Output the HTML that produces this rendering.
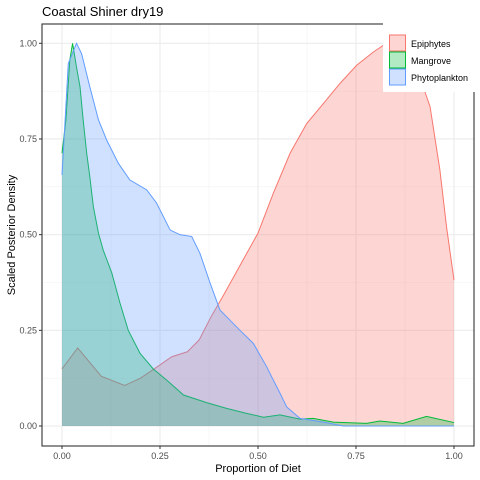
<!DOCTYPE html>
<html><head><meta charset="utf-8"><style>
body{margin:0;background:#fff;}
svg{display:block;font-family:"Liberation Sans",sans-serif;}
</style></head><body>
<svg id="chart" width="480" height="480"></svg>
<script>
const xTicks=[0,0.25,0.5,0.75,1];
const xTickLabels=["0.00","0.25","0.50","0.75","1.00"];
const yTicks=[0,0.25,0.5,0.75,1];
const yTickLabels=["0.00","0.25","0.50","0.75","1.00"];
const seriesNames=["Epiphytes","Mangrove","Phytoplankton"];
const epiX=[0,0.04,0.1,0.16,0.2,0.235,0.28,0.32,0.35,0.38,0.41,0.45,0.5,0.539,0.582,0.624,0.667,0.709,0.752,0.794,0.82,0.86,0.89,0.913,0.939,0.964,0.981,1.0];
const epiY=[0.149,0.204,0.13,0.106,0.125,0.149,0.181,0.194,0.225,0.285,0.338,0.412,0.504,0.608,0.713,0.79,0.843,0.895,0.943,0.977,0.995,1.0,0.98,0.912,0.834,0.669,0.52,0.381];
const manX=[0,0.01,0.02,0.027,0.037,0.046,0.054,0.063,0.071,0.08,0.093,0.105,0.127,0.148,0.169,0.199,0.233,0.267,0.31,0.369,0.42,0.471,0.514,0.556,0.607,0.641,0.692,0.777,0.811,0.87,0.93,1.0];
const manY=[0.713,0.8,0.957,1.0,0.938,0.886,0.8,0.713,0.651,0.573,0.504,0.46,0.4,0.321,0.25,0.19,0.149,0.12,0.081,0.061,0.046,0.033,0.023,0.029,0.018,0.02,0.01,0.007,0.013,0.007,0.025,0.009];
const phyX=[0,0.008,0.016,0.037,0.05,0.071,0.093,0.114,0.144,0.173,0.216,0.241,0.276,0.301,0.331,0.352,0.378,0.403,0.454,0.488,0.522,0.539,0.556,0.573,0.607,0.667,0.718,1.0];
const phyY=[0.656,0.8,0.947,1.0,0.973,0.886,0.8,0.747,0.686,0.643,0.617,0.583,0.512,0.5,0.495,0.451,0.373,0.303,0.25,0.216,0.155,0.12,0.086,0.05,0.02,0.01,0,0];

const NS="http://www.w3.org/2000/svg";
const svg=document.getElementById('chart');
const L=42,R=474,T=24,B=446;
const sx=v=>62+v*392;
const sy=v=>426-v*382.7;
function mk(tag,attrs,parent){const e=document.createElementNS(NS,tag);for(const k in attrs)e.setAttribute(k,attrs[k]);(parent||svg).appendChild(e);return e;}

const panel=mk('rect',{x:L,y:T,width:R-L,height:B-T,fill:'#fff'});


// minor grid
for(let i=0;i<xTicks.length-1;i++){
  const m=(xTicks[i]+xTicks[i+1])/2;
  const g=mk('line',{x1:sx(m),x2:sx(m),y1:T,y2:B,stroke:'#f2f2f2','stroke-width':0.6});
  
  
  const m2=(yTicks[i]+yTicks[i+1])/2;
  const h=mk('line',{x1:L,x2:R,y1:sy(m2),y2:sy(m2),stroke:'#f2f2f2','stroke-width':0.6});
  
  
}
xTicks.forEach((v,i)=>{
  const g=mk('line',{x1:sx(v),x2:sx(v),y1:T,y2:B,stroke:'#ebebeb','stroke-width':1.1});
  
  
  const t=mk('line',{x1:sx(v),x2:sx(v),y1:B,y2:B+3,stroke:'#333'});
  
  
  const tx=mk('text',{x:sx(v),y:B+13,'font-size':9,fill:'#4d4d4d','text-anchor':'middle'});
  tx.textContent=xTickLabels[i];
  
  
});
yTicks.forEach((v,i)=>{
  const g=mk('line',{x1:L,x2:R,y1:sy(v),y2:sy(v),stroke:'#ebebeb','stroke-width':1.1});
  
  
  const t=mk('line',{x1:L-3,x2:L,y1:sy(v),y2:sy(v),stroke:'#333'});
  
  
  const tx=mk('text',{x:L-5,y:sy(v)+3,'font-size':9,fill:'#4d4d4d','text-anchor':'end'});
  tx.textContent=yTickLabels[i];
  
  
});

function area(xs,ys,col,name){
  let d='M'+sx(xs[0])+','+sy(0);
  xs.forEach((x,i)=>{d+=' L'+sx(x)+','+sy(ys[i]);});
  d+=' L'+sx(xs[xs.length-1])+','+sy(0)+' Z';
  const f=mk('path',{d:d,fill:col,'fill-opacity':0.3,stroke:'none'});
  
  
  let l='';
  xs.forEach((x,i)=>{l+=(i?' L':'M')+sx(x)+','+sy(ys[i]);});
  const p=mk('path',{d:l,fill:'none',stroke:col,'stroke-width':1});
  
  
}
area(epiX,epiY,'#F8766D','epiphytes');
area(manX,manY,'#00BA38','mangrove');
area(phyX,phyY,'#619CFF','phytoplankton');

const border=mk('rect',{x:L,y:T,width:R-L,height:B-T,fill:'none',stroke:'#333','stroke-width':1.1});



// legend
const lg=mk('g',{});


mk('rect',{x:383,y:23,width:97,height:69,fill:'#fff'},lg);
const cols=['#F8766D','#00BA38','#619CFF'];
seriesNames.forEach((n,i)=>{
  const y=35+i*17;
  const k=mk('rect',{x:389.5,y:y,width:16,height:16,fill:cols[i],'fill-opacity':0.3,stroke:cols[i],'stroke-width':1},lg);
  
  
  const t=mk('text',{x:411,y:y+12,'font-size':9,fill:'#000'},lg);
  t.textContent=n;
  
  
});

const title=mk('text',{x:42,y:16,'font-size':13,fill:'#000'});
title.textContent='Coastal Shiner dry19';


const xt=mk('text',{x:258,y:472,'font-size':11,fill:'#000','text-anchor':'middle'});
xt.textContent='Proportion of Diet';


const yt=mk('text',{x:0,y:0,'font-size':11,fill:'#000','text-anchor':'middle',transform:'translate(15,235) rotate(-90)'});
yt.textContent='Scaled Posterior Density';


</script>
</body></html>
